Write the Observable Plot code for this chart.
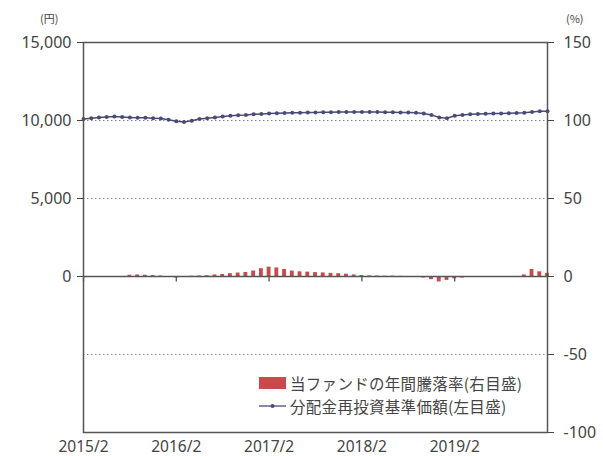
<!DOCTYPE html>
<html><head><meta charset="utf-8">
<script src="https://cdn.jsdelivr.net/npm/d3@7"></script>
<script src="https://cdn.jsdelivr.net/npm/@observablehq/plot@0.6"></script>
<style>
body{margin:0;background:#fff;}
#wrap{position:relative;width:603px;height:456px;font-family:"Noto Sans","Noto Sans CJK JP",sans-serif;color:#444;}
.unit{position:absolute;font-size:11px;color:#444;font-family:"Noto Sans CJK JP",sans-serif;}
#legend{position:absolute;left:259px;top:371px;font-size:15.5px;letter-spacing:0.3px;color:#444;font-family:"Noto Sans CJK JP",sans-serif;}
#legend .row{display:flex;align-items:center;height:23px;}
#legend .txt{display:inline-block;line-height:22px;white-space:nowrap;}
#legend .sw{display:inline-block;width:27px;height:12px;background:#c84a4a;margin-right:4px;}
#legend svg{margin-right:4px;}
</style></head><body><div id="wrap"></div>
<script>
// Monthly data from 2015/2 (index 0) to 2020/2 (index 60)
const navValues = [
 10100,10150,10200,10230,10250,10230,10200,10180,10170,10150,10130,10050,
 9950,9900,9980,10100,10150,10200,10250,10300,10330,10350,10400,10420,
 10450,10470,10480,10500,10500,10520,10520,10530,10530,10540,10540,10540,
 10550,10540,10540,10530,10530,10520,10510,10500,10450,10350,10200,10150,
 10300,10350,10400,10420,10430,10450,10450,10460,10480,10500,10550,10600,10600
];
const returnRates = [
 null,null,null,null,null,null,0.8,1.0,0.8,0.6,0.3,-0.3,
 -1.0,-0.5,0.2,0.3,0.5,1.0,1.3,1.8,2.2,2.6,3.5,5.0,
 6.0,5.5,4.5,3.5,3.0,2.8,2.5,2.3,2.0,1.8,1.5,1.0,
 0.6,0.4,0.3,0.2,0.2,0.1,null,-0.3,-1.0,-2.0,-3.5,-2.5,
 -1.5,-1.0,-0.3,null,null,null,null,null,null,1.0,4.5,3.0,2.0
];
const tickIdx = [0,12,24,36,48];
const tickLabels = ["2015/2","2016/2","2017/2","2018/2","2019/2"];
const leftTicks = [0,5000,10000,15000];
const rightTicks = [-100,-50,0,50,100,150];
const gridPct = [-50,50,100];
const legendLabels = ["当ファンドの年間騰落率(右目盛)","分配金再投資基準価額(左目盛)"];

const rows = navValues.map((v,i)=>({i, nav:v, rate:returnRates[i]}));
const bars = rows.filter(d=>d.rate!=null);

const chart = Plot.plot({
  width:603, height:456,
  marginTop:42, marginBottom:24, marginLeft:83, marginRight:56,
  style:{fontFamily:'"Noto Sans","Noto Sans CJK JP",sans-serif', fontSize:"15px", color:"#444", background:"#fff"},
  x:{type:"linear", domain:[0,60]},
  y:{domain:[-10000,15000]},
  marks:[
    Plot.ruleY(gridPct.map(p=>p*100), {stroke:"#888", strokeDasharray:"1.5,2.5"}),
    Plot.rectY(bars, {x1:d=>d.i-0.25, x2:d=>d.i+0.25, y:d=>d.rate*100, fill:"#c84a4a"}),
    Plot.ruleY([0], {stroke:"#555", strokeWidth:1.3}),
    Plot.ruleX(tickIdx, {y1:0, y2:-350, stroke:"#555", strokeWidth:1.3}),
    Plot.line(rows, {x:"i", y:"nav", stroke:"#4a4a78", strokeWidth:1.5}),
    Plot.dot(rows, {x:"i", y:"nav", r:2, fill:"#4a4a78"}),
    Plot.frame({stroke:"#555", strokeWidth:1.5}),
    Plot.axisY(leftTicks, {anchor:"left", tickFormat:d3.format(","), tickSize:6, tickPadding:6, label:null, fontSize:16}),
    Plot.axisY(rightTicks.map(p=>p*100), {anchor:"right", tickFormat:d=>String(d/100), tickSize:6, tickPadding:10, label:null, fontSize:16}),
    Plot.axisX(tickIdx, {anchor:"bottom", tickFormat:d=>tickLabels[tickIdx.indexOf(d)], tickSize:0, tickPadding:8, label:null, fontSize:15.5})
  ]
});
const wrap = document.getElementById("wrap");
wrap.appendChild(chart);

const u1 = document.createElement("div"); u1.className="unit"; u1.textContent="(円)"; u1.style.left="40px"; u1.style.top="10px"; wrap.appendChild(u1);
const u2 = document.createElement("div"); u2.className="unit"; u2.textContent="(%)"; u2.style.left="566px"; u2.style.top="10px"; wrap.appendChild(u2);

const lg = document.createElement("div"); lg.id="legend";
lg.innerHTML = `<div class="row"><span class="sw"></span><span class="txt">${legendLabels[0]}</span></div>
<div class="row"><svg width="27" height="10"><line x1="0" y1="5" x2="27" y2="5" stroke="#4a4a78" stroke-width="1.3"/><circle cx="13.5" cy="5" r="2" fill="#4a4a78"/></svg><span class="txt">${legendLabels[1]}</span></div>`;
wrap.appendChild(lg);
</script></body></html>
